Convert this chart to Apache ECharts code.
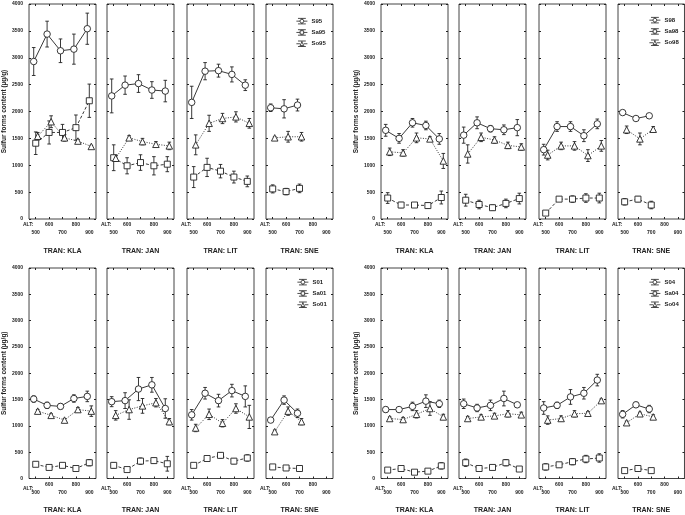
<!DOCTYPE html>
<html>
<head>
<meta charset="utf-8">
<script src="https://cdn.jsdelivr.net/npm/echarts@6/dist/echarts.min.js"></script>
<style>
  html, body { margin: 0; padding: 0; background: #fff; }
  #chart { width: 685px; height: 515px; }
</style>
</head>
<body>
<div id="chart"></div>
<script>
var alts = [500, 600, 700, 800, 900];
var altsRow1 = [600, 800];
var altsRow2 = [500, 700, 900];
var transects = ['KLA', 'JAN', 'LIT', 'SNE'];

// each array: [KLA, JAN, LIT, SNE], values per altitude
var S95 = [[2930, 3440, 3130, 3160, 3540], [2290, 2490, 2520, 2400, 2380], [2170, 2750, 2760, 2690, 2490], [2070, 2050, 2120]];
var S95err = [[260, 240, 220, 280, 290], [315, 170, 165, 155, 200], [300, 160, 120, 140, 100], [70, 170, 110]];
var Sa95 = [[1410, 1610, 1610, 1700, 2200], [1140, 990, 1050, 990, 1020], [780, 960, 890, 780, 700], [560, 510, 570]];
var Sa95err = [[210, 215, 150, 235, 310], [240, 150, 145, 170, 140], [195, 170, 125, 110, 100], [75, 60, 80]];
var So95 = [[1540, 1810, 1510, 1450, 1350], [1130, 1510, 1440, 1390, 1360], [1380, 1780, 1870, 1900, 1780], [1510, 1530, 1530]];
var So95err = [[70, 110, 60, 30, 20], [60, 40, 60, 50, 70], [185, 150, 95, 95, 90], [20, 100, 80]];

var S98 = [[1650, 1500, 1790, 1740, 1490], [1560, 1790, 1680, 1660, 1700], [1290, 1720, 1720, 1550, 1770], [1980, 1870, 1920]];
var S98err = [[110, 90, 80, 80, 100], [150, 110, 60, 90, 150], [100, 90, 90, 110, 90], [30, 20, 40]];
var Sa98 = [[390, 260, 260, 250, 400], [350, 270, 210, 290, 380], [110, 370, 370, 390, 390], [320, 370, 260]];
var Sa98err = [[100, 50, 40, 50, 120], [110, 80, 50, 80, 100], [20, 40, 60, 80, 90], [60, 50, 70]];
var So98 = [[1250, 1230, 1510, 1490, 1080], [1210, 1520, 1470, 1370, 1340], [1190, 1360, 1360, 1180, 1360], [1660, 1490, 1670]];
var So98err = [[70, 60, 90, 40, 140], [170, 80, 60, 60, 60], [90, 70, 80, 110, 100], [70, 110, 50]];

var S01 = [[1510, 1390, 1370, 1520, 1560], [1460, 1480, 1700, 1780, 1330], [1210, 1620, 1480, 1670, 1560], [1110, 1490, 1240]];
var S01err = [[60, 60, 50, 70, 100], [95, 150, 220, 140, 185], [100, 110, 120, 120, 200], [30, 80, 80]];
var Sa01 = [[270, 210, 250, 190, 300], [250, 170, 330, 340, 280], [250, 380, 440, 330, 390], [220, 200, 190]];
var Sa01err = [[40, 30, 40, 30, 60], [50, 20, 60, 50, 140], [30, 40, 50, 50, 60], [30, 20, 50]];
var So01 = [[1280, 1200, 1110, 1310, 1280], [1200, 1310, 1380, 1440, 1080], [960, 1220, 1050, 1330, 1170], [890, 1280, 1080]];
var So01err = [[30, 30, 30, 40, 100], [90, 185, 140, 80, 60], [70, 100, 70, 90, 220], [30, 80, 60]];

var S04 = [[1310, 1310, 1370, 1470, 1420], [1420, 1340, 1390, 1520, 1400], [1340, 1390, 1550, 1620, 1870], [1220, 1400, 1320]];
var S04err = [[50, 40, 80, 120, 70], [90, 70, 100, 140, 40], [120, 60, 140, 110, 110], [70, 50, 70]];
var Sa04 = [[160, 190, 120, 140, 240], [300, 190, 210, 300, 180], [220, 260, 320, 370, 390], [150, 190, 150]];
var Sa04err = [[30, 30, 30, 30, 60], [70, 30, 30, 60, 30], [60, 40, 60, 70, 80], [30, 50, 30]];
var So04 = [[1140, 1120, 1220, 1330, 1170], [1140, 1170, 1190, 1230, 1210], [1110, 1140, 1230, 1240, 1480], [1060, 1230, 1170]];
var So04err = [[30, 40, 70, 130, 50], [40, 40, 50, 60, 50], [80, 50, 60, 30, 30], [30, 30, 40]];

var groups = [
  { year: '95', S: S95, Se: S95err, Sa: Sa95, Sae: Sa95err, So: So95, Soe: So95err },
  { year: '98', S: S98, Se: S98err, Sa: Sa98, Sae: Sa98err, So: So98, Soe: So98err },
  { year: '01', S: S01, Se: S01err, Sa: Sa01, Sae: Sa01err, So: So01, Soe: So01err },
  { year: '04', S: S04, Se: S04err, Sa: Sa04, Sae: Sa04err, So: So04, Soe: So04err }
];

var ink = '#222';
var font = '"Liberation Sans", Arial, sans-serif';
var panelLeft = [[29, 107, 187, 266], [381, 459, 539, 618], [29, 107, 187, 266], [381, 459, 539, 618]];
var panelTop = [4, 4, 268, 268];
var panelW = 67, panelH = 215;
var legendPos = [[291, 13], [644, 12], [292, 274], [644, 274]];

// legend glyphs: error-bar frame with the marker in the middle
var frame = 'M0,4 L4.6,4 M9.4,4 L14,4 M2,0.5 L12,0.5 M2,7.5 L12,7.5 M7,0.5 L7,1.6 M7,6.4 L7,7.5 ';
var kinds = [
  { key: 'S', err: 'Se', symbol: 'circle', size: 6.5, line: 'solid', dx: -15,
    icon: 'path://' + frame + 'M9.4,4 A2.4,2.4 0 1 1 4.6,4 A2.4,2.4 0 1 1 9.4,4 Z' },
  { key: 'Sa', err: 'Sae', symbol: 'rect', size: 6, line: [3, 2], dx: 0,
    icon: 'path://' + frame + 'M4.8,1.8 L9.2,1.8 L9.2,6.2 L4.8,6.2 Z' },
  { key: 'So', err: 'Soe', symbol: 'triangle', size: 6.5, line: [1, 1.5], dx: 15,
    icon: 'path://' + frame + 'M7,1.6 L9.4,6.4 L4.6,6.4 Z' }
];

function renderError(params, api) {
  var x = api.value(0), y = api.value(1), e = api.value(2);
  var hi = api.coord([x, y + e]);
  var lo = api.coord([x, y - e]);
  var w = 1.8;
  var st = { stroke: ink, lineWidth: 0.9 };
  return {
    type: 'group',
    children: [
      { type: 'line', shape: { x1: hi[0], y1: hi[1], x2: lo[0], y2: lo[1] }, style: st },
      { type: 'line', shape: { x1: hi[0] - w, y1: hi[1], x2: hi[0] + w, y2: hi[1] }, style: st },
      { type: 'line', shape: { x1: lo[0] - w, y1: lo[1], x2: lo[0] + w, y2: lo[1] }, style: st }
    ]
  };
}

var labelStyle = { fontSize: 5, fontWeight: 'bold', fontFamily: font, color: ink };
var grids = [], xAxes = [], yAxes = [], series = [], legends = [], texts = [];

groups.forEach(function(g, gi) {
  legends.push({
    left: legendPos[gi][0],
    top: legendPos[gi][1],
    orient: 'vertical',
    itemWidth: 11,
    itemHeight: 8,
    itemGap: 5,
    itemStyle: { color: '#fff', borderColor: ink, borderWidth: 0.8 },
    data: kinds.map(function(k) { return { name: k.key + g.year, icon: k.icon }; }),
    textStyle: { fontSize: 6, fontWeight: 'bold', fontFamily: font, color: ink, padding: [0, 0, 0, -1] }
  });

  transects.forEach(function(t, ti) {
    var idx = grids.length;
    grids.push({
      left: panelLeft[gi][ti], top: panelTop[gi], width: panelW, height: panelH,
      show: true, borderColor: '#444', borderWidth: 1
    });
    texts.push({
      type: 'text', left: panelLeft[gi][ti] - 6, top: panelTop[gi] + panelH + 3.5,
      style: { text: 'ALT:', fontSize: 5, fontWeight: 'bold', fontFamily: font, fill: ink }
    });
    // main bottom axis: ticks, first label row and transect title
    xAxes.push({
      gridIndex: idx, type: 'value', min: 450, max: 950, position: 'bottom',
      axisLine: { show: false }, splitLine: { show: false },
      axisTick: { inside: true, length: 2, customValues: alts, lineStyle: { color: ink } },
      axisLabel: Object.assign({ customValues: altsRow1, margin: 3.5 }, labelStyle),
      name: 'TRAN: ' + t, nameLocation: 'middle', nameGap: 28.5,
      nameTextStyle: { fontSize: 7, fontWeight: 'bold', fontFamily: font, color: ink }
    });
    // second label row
    xAxes.push({
      gridIndex: idx, type: 'value', min: 450, max: 950, position: 'bottom',
      axisLine: { show: false }, splitLine: { show: false }, axisTick: { show: false },
      axisLabel: Object.assign({ customValues: altsRow2, margin: 11.5 }, labelStyle)
    });
    // top frame ticks
    xAxes.push({
      gridIndex: idx, type: 'value', min: 450, max: 950, position: 'top',
      axisLine: { show: false }, splitLine: { show: false }, axisLabel: { show: false },
      axisTick: { inside: true, length: 2, customValues: alts, lineStyle: { color: ink } }
    });
    yAxes.push({
      gridIndex: idx, type: 'value', min: 0, max: 4000, interval: 500, position: 'left',
      axisLine: { show: false }, splitLine: { show: false },
      axisTick: { inside: true, length: 2, lineStyle: { color: ink } },
      axisLabel: Object.assign({
        show: ti === 0, margin: 6,
        formatter: function(v) { return String(v); }
      }, labelStyle),
      name: ti === 0 ? 'Sulfur forms content (\u00b5g/g)' : '',
      nameLocation: 'middle', nameGap: 17,
      nameTextStyle: { fontSize: 6.5, fontWeight: 'bold', fontFamily: font, color: ink }
    });
    yAxes.push({
      gridIndex: idx, type: 'value', min: 0, max: 4000, interval: 500, position: 'right',
      axisLine: { show: false }, splitLine: { show: false }, axisLabel: { show: false },
      axisTick: { inside: true, length: 2, lineStyle: { color: ink } }
    });

    kinds.forEach(function(k) {
      var vals = g[k.key][ti], errs = g[k.err][ti];
      var pts = vals.map(function(v, i) { return [alts[i] + k.dx, v]; });
      var bars = vals.map(function(v, i) { return [alts[i] + k.dx, v, errs[i]]; });
      series.push({
        type: 'custom',
        xAxisIndex: idx * 3, yAxisIndex: idx * 2,
        renderItem: renderError,
        encode: { x: 0, y: 1 },
        data: bars,
        silent: true,
        z: 2
      });
      series.push({
        name: k.key + g.year,
        type: 'line',
        xAxisIndex: idx * 3, yAxisIndex: idx * 2,
        data: pts,
        symbol: k.symbol,
        symbolSize: k.size,
        showAllSymbol: true,
        lineStyle: { color: ink, width: 0.9, type: k.line },
        itemStyle: { color: '#fff', borderColor: ink, borderWidth: 0.9 },
        z: 3
      });
    });
  });
});

var chart = echarts.init(document.getElementById('chart'));
chart.setOption({
  animation: false,
  backgroundColor: '#fff',
  legend: legends,
  grid: grids,
  xAxis: xAxes,
  yAxis: yAxes,
  graphic: texts,
  series: series
});
</script>
</body>
</html>
